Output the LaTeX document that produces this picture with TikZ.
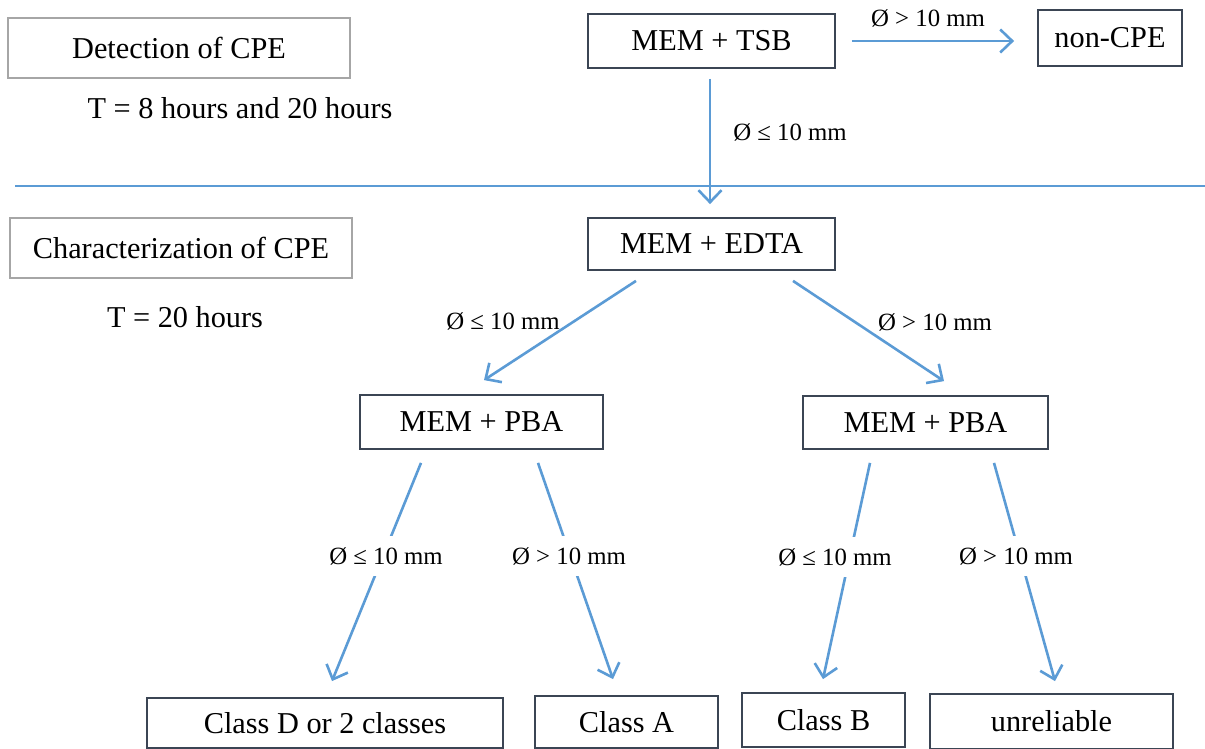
\documentclass[tikz,border=0pt]{standalone}
\usepackage{fontspec}
\setmainfont{Liberation Serif}
\usetikzlibrary{arrows.meta}
\definecolor{arrowblue}{HTML}{5B9BD5}
\definecolor{boxdark}{HTML}{3B4554}
\definecolor{boxgrey}{HTML}{A6A6A6}
\begin{document}
\begin{tikzpicture}[x=1pt,y=-1pt,
  boxtext/.style={font=\fontsize{30.3}{33}\selectfont},
  darkbox/.style={draw=boxdark,line width=1.8pt,boxtext,inner sep=0pt,anchor=center},
  greybox/.style={draw=boxgrey,line width=1.8pt,boxtext,inner sep=0pt,anchor=center},
  lbl/.style={font=\fontsize{24.8}{27}\selectfont,inner sep=0pt},
  gaplbl/.style={lbl,fill=white,inner xsep=2pt,inner ysep=11pt},
  conn/.style={draw=arrowblue,line width=2.6pt,-{Straight Barb[length=12pt,width=23pt]}}
]
\useasboundingbox (0,0) rectangle (1205,749);

% section headers
\node[greybox,minimum width=342pt,minimum height=60pt] (det) at (179,48) {Detection of CPE};
\node[boxtext] (t1) at (240,108) {T = 8 hours and 20 hours};
\node[greybox,minimum width=342pt,minimum height=60pt] (char) at (181,248) {Characterization of CPE};
\node[boxtext] (t2) at (185,317) {T = 20 hours};

% separator
\coordinate (sepL) at (15,186);
\coordinate (sepR) at (1205,186);
\draw[arrowblue,line width=1.8pt] (sepL) -- (sepR);

% flow nodes
\node[darkbox,minimum width=247pt,minimum height=54pt] (mtsb) at (711.5,41) {MEM + TSB};
\node[darkbox,minimum width=144pt,minimum height=56pt] (noncpe) at (1110,38) {non-CPE};
\node[darkbox,minimum width=247pt,minimum height=52pt] (medta) at (711.5,244) {MEM + EDTA};
\node[darkbox,minimum width=243pt,minimum height=54pt] (pbaL) at (481.5,422) {MEM + PBA};
\node[darkbox,minimum width=245pt,minimum height=53pt] (pbaR) at (925.5,422.5) {MEM + PBA};
\node[darkbox,minimum width=356pt,minimum height=50pt] (cD) at (325,723) {Class D or 2 classes};
\node[darkbox,minimum width=183pt,minimum height=52pt] (cA) at (626.5,722) {Class A};
\node[darkbox,minimum width=163pt,minimum height=54pt] (cB) at (823.5,720) {Class B};
\node[darkbox,minimum width=243pt,minimum height=55pt] (unrel) at (1051.5,721.5) {unreliable};

% detection connectors
\draw[conn] ([xshift=16pt]mtsb.east) -- ([xshift=-23pt,yshift=-3pt]noncpe.west);
\node[lbl] (l1) at (928,18) {Ø > 10 mm};
\draw[conn] ([xshift=-1.5pt,yshift=-10pt]mtsb.south) -- ([xshift=-1.5pt,yshift=13pt]medta.north);
\node[lbl] (l2) at (790,132) {Ø ≤ 10 mm};

% EDTA connectors
\draw[conn] ([xshift=-75.5pt,yshift=-10pt]medta.south) -- ([xshift=2.5pt,yshift=14pt]pbaL.north);
\node[lbl] (l3) at (503,321) {Ø ≤ 10 mm};
\draw[conn] ([xshift=81.5pt,yshift=-10pt]medta.south) -- ([xshift=18.5pt,yshift=14pt]pbaR.north);
\node[lbl] (l4) at (935,322) {Ø > 10 mm};

% PBA connectors
\draw[conn] ([xshift=-60.5pt,yshift=-13pt]pbaL.south) -- ([xshift=7pt,yshift=16pt]cD.north);
\node[gaplbl] (l5) at (386,556) {Ø ≤ 10 mm};
\draw[conn] ([xshift=56.5pt,yshift=-13pt]pbaL.south) -- ([xshift=-13.5pt,yshift=16pt]cA.north);
\node[gaplbl] (l6) at (569,556) {Ø > 10 mm};
\draw[conn] ([xshift=-55.5pt,yshift=-13pt]pbaR.south) -- ([xshift=-0.5pt,yshift=13pt]cB.north);
\node[gaplbl] (l7) at (835,557) {Ø ≤ 10 mm};
\draw[conn] ([xshift=68.5pt,yshift=-13pt]pbaR.south) -- ([xshift=3.5pt,yshift=12pt]unrel.north);
\node[gaplbl] (l8) at (1016,556) {Ø > 10 mm};
\end{tikzpicture}
\end{document}
